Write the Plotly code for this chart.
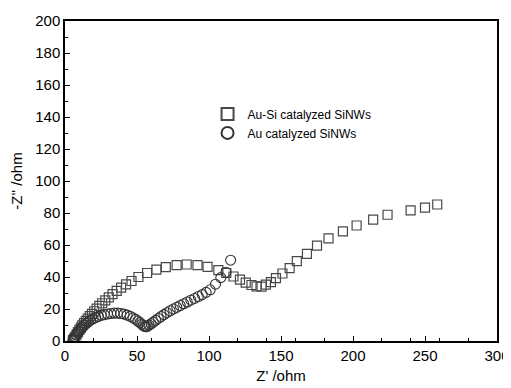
import plotly.graph_objects as go

# Au-Si catalyzed SiNWs (squares)
ausi_x = [5.5, 6.3, 7.2, 8.1, 9.0, 10.0, 11.0, 12.0, 13.2, 14.5, 15.8, 17.2, 18.7, 20.3, 22.0,
          23.8, 25.8, 28.0, 30.4, 33.0, 35.9, 39.0, 42.4, 46.2, 51.0, 57.0, 63.5, 70.0, 77.5,
          84.5, 92.0, 99.0, 106.5, 112.0, 117.0, 121.5, 125.5, 129.5, 133.0, 136.5, 139.5,
          143.0, 146.5, 151.0, 156.0, 161.0, 168.0, 175.0, 183.0, 193.0, 202.5, 214.0, 224.0,
          240.0, 250.0, 258.5]
ausi_y = [0.5, 1.5, 2.8, 4.2, 5.6, 7.0, 8.4, 9.8, 11.2, 12.6, 14.0, 15.5, 17.0, 18.6, 20.2,
          21.9, 23.6, 25.4, 27.3, 29.3, 31.3, 33.3, 35.4, 37.5, 40.0, 42.5, 44.6, 46.2, 47.4,
          47.8, 47.4, 46.3, 44.3, 42.5, 40.3, 38.4, 36.5, 35.0, 34.2, 34.0, 35.2, 36.8, 39.3,
          42.2, 45.5, 49.9, 54.5, 59.6, 64.2, 68.5, 72.2, 75.8, 78.9, 81.6, 83.4, 85.3]

# Au catalyzed SiNWs (circles)
au_x = [5.5, 6.2, 7.0, 7.8, 8.7, 9.7, 10.8, 12.0, 13.3, 14.7, 16.2, 17.8, 19.5, 21.3, 23.2,
        25.2, 27.3, 29.5, 31.8, 34.1, 36.4, 38.7, 41.0, 43.2, 45.3, 47.2, 49.0, 50.6, 52.0,
        53.3, 54.4, 55.3, 56.2, 57.2, 58.4, 59.8, 61.3, 63.0, 64.8, 66.7, 68.7, 70.8, 73.0,
        75.3, 77.6, 80.0, 82.4, 84.9, 87.4, 90.0, 92.6, 95.3, 98.0, 100.8, 104.5, 108.2,
        111.8, 115.0]
au_y = [0.3, 1.4, 2.6, 3.8, 5.0, 6.2, 7.4, 8.6, 9.8, 10.9, 12.0, 13.0, 13.9, 14.7, 15.4,
        16.0, 16.5, 16.9, 17.2, 17.4, 17.4, 17.2, 16.8, 16.2, 15.4, 14.5, 13.5, 12.5, 11.5,
        10.5, 9.7, 9.1, 8.9, 9.2, 9.9, 10.8, 11.8, 12.9, 14.1, 15.3, 16.5, 17.7, 18.9, 20.0,
        21.1, 22.2, 23.3, 24.4, 25.5, 26.6, 27.8, 29.0, 30.4, 32.0, 35.5, 39.6, 43.0, 50.5]

x_ticks = [0, 50, 100, 150, 200, 250, 300]
y_ticks = [0, 20, 40, 60, 80, 100, 120, 140, 160, 180, 200]

FONT = "Liberation Sans, Arial"

fig = go.Figure()
fig.add_trace(go.Scatter(
    x=ausi_x, y=ausi_y, mode="markers", name="Au-Si catalyzed SiNWs",
    marker=dict(symbol="square-open", size=9, color="#484848", line=dict(width=1.2)),
))
fig.add_trace(go.Scatter(
    x=au_x, y=au_y, mode="markers", name="Au catalyzed SiNWs",
    marker=dict(symbol="circle-open", size=10, color="#333333", line=dict(width=1.1)),
))

axis_common = dict(
    showline=True, linecolor="black", linewidth=1.5, mirror=True,
    ticks="inside", ticklen=5, tickwidth=1, tickcolor="black",
    showgrid=False, zeroline=False, automargin=False,
    tickfont=dict(family=FONT, size=15, color="black"),
    minor=dict(ticks="inside", ticklen=3, tickwidth=1, tickcolor="black"),
)

fig.update_xaxes(range=[0, 300], tickvals=x_ticks, **axis_common,
                 title=dict(text="Z' /ohm", standoff=8,
                            font=dict(family=FONT, size=15, color="black")))
fig.update_yaxes(range=[0, 200], tickvals=y_ticks, **axis_common,
                 title=dict(text="-Z'' /ohm", standoff=20,
                            font=dict(family=FONT, size=15, color="black")))

# the page body adds an 8 px offset; the figure size and margins account for it
fig.update_layout(
    width=503, height=380,
    margin=dict(l=57, r=14, t=13, b=47),
    paper_bgcolor="white", plot_bgcolor="white",
    legend=dict(x=0.33, y=0.755, xanchor="left", yanchor="top",
                bgcolor="rgba(0,0,0,0)", tracegroupgap=0, itemsizing="constant",
                itemwidth=30,
                font=dict(family=FONT, size=12, color="black")),
)

fig.write_html("out.html")
